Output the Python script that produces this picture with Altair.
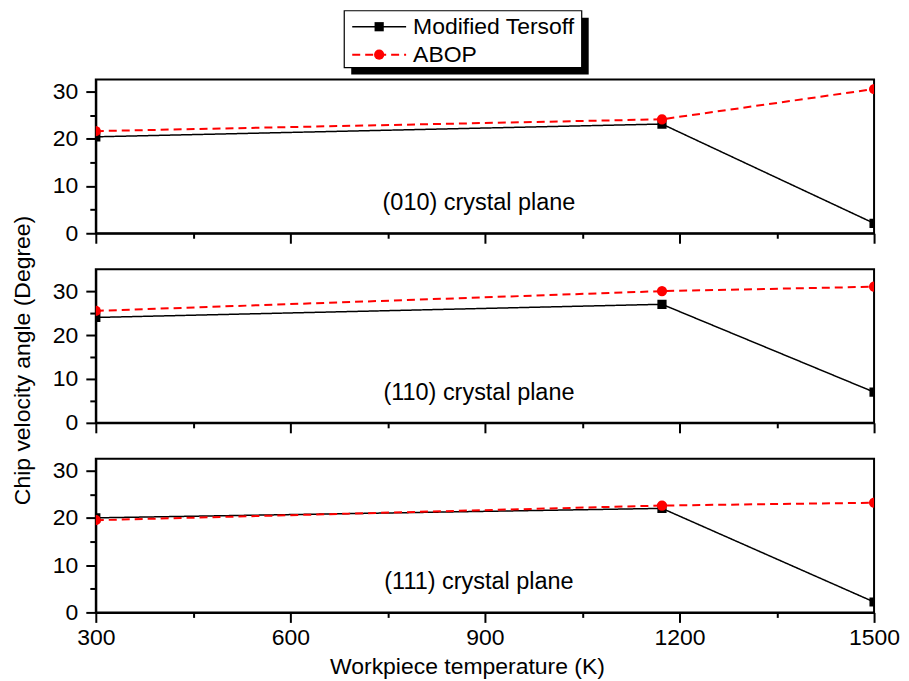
import altair as alt
import pandas as pd

# ---- data ----
temps = [300, 1173, 1500]
series_names = ["Modified Tersoff", "ABOP"]
planes = ["(010) crystal plane", "(110) crystal plane", "(111) crystal plane"]
tersoff_010 = [20.4, 23.1, 2.1]
abop_010 = [21.6, 24.1, 30.5]
tersoff_110 = [24.0, 27.0, 7.0]
abop_110 = [25.5, 30.0, 31.0]
tersoff_111 = [20.0, 22.0, 2.2]
abop_111 = [19.5, 22.6, 23.2]
y_max = [32.5, 35, 32.5]
x_major = [300, 600, 900, 1200, 1500]
x_minor = [450, 750, 1050, 1350]
y_major = [0, 10, 20, 30]
y_minor = [5, 15, 25]

FONT = "Liberation Sans"
W, H = 780, 154

color_scale = alt.Scale(domain=series_names, range=["#000000", "#ff0000"])
dash_scale = alt.Scale(domain=series_names, range=[[1, 0], [8, 5]])
width_scale = alt.Scale(domain=series_names, range=[1.5, 2])
shape_scale = alt.Scale(domain=series_names, range=["square", "circle"])
size_scale = alt.Scale(domain=series_names, range=[85, 105])


def axis_kw(**kw):
    return {k: v for k, v in kw.items() if v is not None}


def panel(tersoff, abop, plane, ymax, idx):
    df = pd.DataFrame({
        "T": temps * 2,
        "angle": tersoff + abop,
        "series": [s for s in series_names for _ in temps],
    })
    bottom = idx == 2
    middle = idx == 1
    xs = alt.Scale(domain=[300, 1500], nice=False, zero=False)
    ys = alt.Scale(domain=[0, ymax], nice=False)

    xmaj = alt.Axis(values=x_major, labels=bottom, tickSize=10, grid=False,
                    orient="bottom", labelPadding=4, titlePadding=6,
                    format="d", labelFlush=False,
                    title="Workpiece temperature (K)" if bottom else None,
                    **axis_kw(titleX=372 if bottom else None))
    ymaj = alt.Axis(values=y_major, tickSize=10, grid=False, orient="left",
                    labelPadding=8, titlePadding=18, format="d", labelFlush=False,
                    title="Chip velocity angle (Degree)" if middle else None,
                    **axis_kw(titleY=91 if middle else None))
    xmin = alt.Axis(values=x_minor, labels=False, tickSize=5, grid=False,
                    domain=False, orient="bottom", title=None)
    ymin = alt.Axis(values=y_minor, labels=False, tickSize=6, grid=False,
                    domain=False, orient="left", title=None)

    base = alt.Chart(df)
    lines = base.mark_line(clip=True).encode(
        x=alt.X("T:Q", scale=xs, axis=xmaj),
        y=alt.Y("angle:Q", scale=ys, axis=ymaj),
        color=alt.Color("series:N", scale=color_scale, legend=None),
        strokeDash=alt.StrokeDash("series:N", scale=dash_scale, legend=None),
        strokeWidth=alt.StrokeWidth("series:N", scale=width_scale, legend=None),
        detail="series:N",
    )
    points = base.mark_point(filled=True, opacity=1, clip=True).encode(
        x=alt.X("T:Q", scale=xs, axis=xmin),
        y=alt.Y("angle:Q", scale=ys, axis=ymin),
        color=alt.Color("series:N", scale=color_scale, legend=None),
        shape=alt.Shape("series:N", scale=shape_scale, legend=None),
        size=alt.Size("series:N", scale=size_scale, legend=None),
    )
    one = alt.Chart(pd.DataFrame({"k": [0]}))
    label = one.mark_text(font=FONT, fontSize=23.5, color="black",
                          align="center", baseline="middle").encode(
        x=alt.value(384), y=alt.value(124), text=alt.value(plane))
    layers = [lines, points, label]

    if idx == 0:
        shadow = one.mark_rect(color="black").encode(
            x=alt.value(256), x2=alt.value(494), y=alt.value(-62), y2=alt.value(-5))
        box = one.mark_rect(fill="white", stroke="black", strokeWidth=1.2).encode(
            x=alt.value(249), x2=alt.value(487), y=alt.value(-69), y2=alt.value(-12))
        layers += [shadow, box]
        for i, (name, col, dash, shp, sw, sz) in enumerate(zip(
                series_names, ["#000000", "#ff0000"], [[1, 0], [8, 5]],
                ["square", "circle"], [1.5, 2], [85, 105])):
            yy = -53 + i * 28
            layers.append(one.mark_rule(color=col, strokeDash=dash, strokeWidth=sw).encode(
                x=alt.value(257), x2=alt.value(311), y=alt.value(yy)))
            layers.append(one.mark_point(filled=True, opacity=1, color=col, shape=shp,
                                         size=sz).encode(x=alt.value(284), y=alt.value(yy)))
            layers.append(one.mark_text(font=FONT, fontSize=23, color="black",
                                        align="left", baseline="middle").encode(
                x=alt.value(318), y=alt.value(yy), text=alt.value(name)))

    return alt.layer(*layers).resolve_axis(x="independent", y="independent").properties(
        width=W, height=H)


p1 = panel(tersoff_010, abop_010, planes[0], y_max[0], 0)
p2 = panel(tersoff_110, abop_110, planes[1], y_max[1], 1)
p3 = panel(tersoff_111, abop_111, planes[2], y_max[2], 2)

chart = alt.vconcat(p1, p2, p3, spacing=36, bounds="flush").properties(
    padding={"left": 2, "top": 0, "right": 0, "bottom": 4},
    background="white",
).configure_view(stroke="black", strokeWidth=2).configure_axis(
    domainColor="black", domainWidth=2, tickColor="black", tickWidth=2,
    labelFont=FONT, labelFontSize=23, labelColor="black",
    titleFont=FONT, titleFontSize=23, titleFontWeight="normal", titleColor="black",
)

chart.save("out.html", embed_options={"renderer": "svg", "actions": False})
